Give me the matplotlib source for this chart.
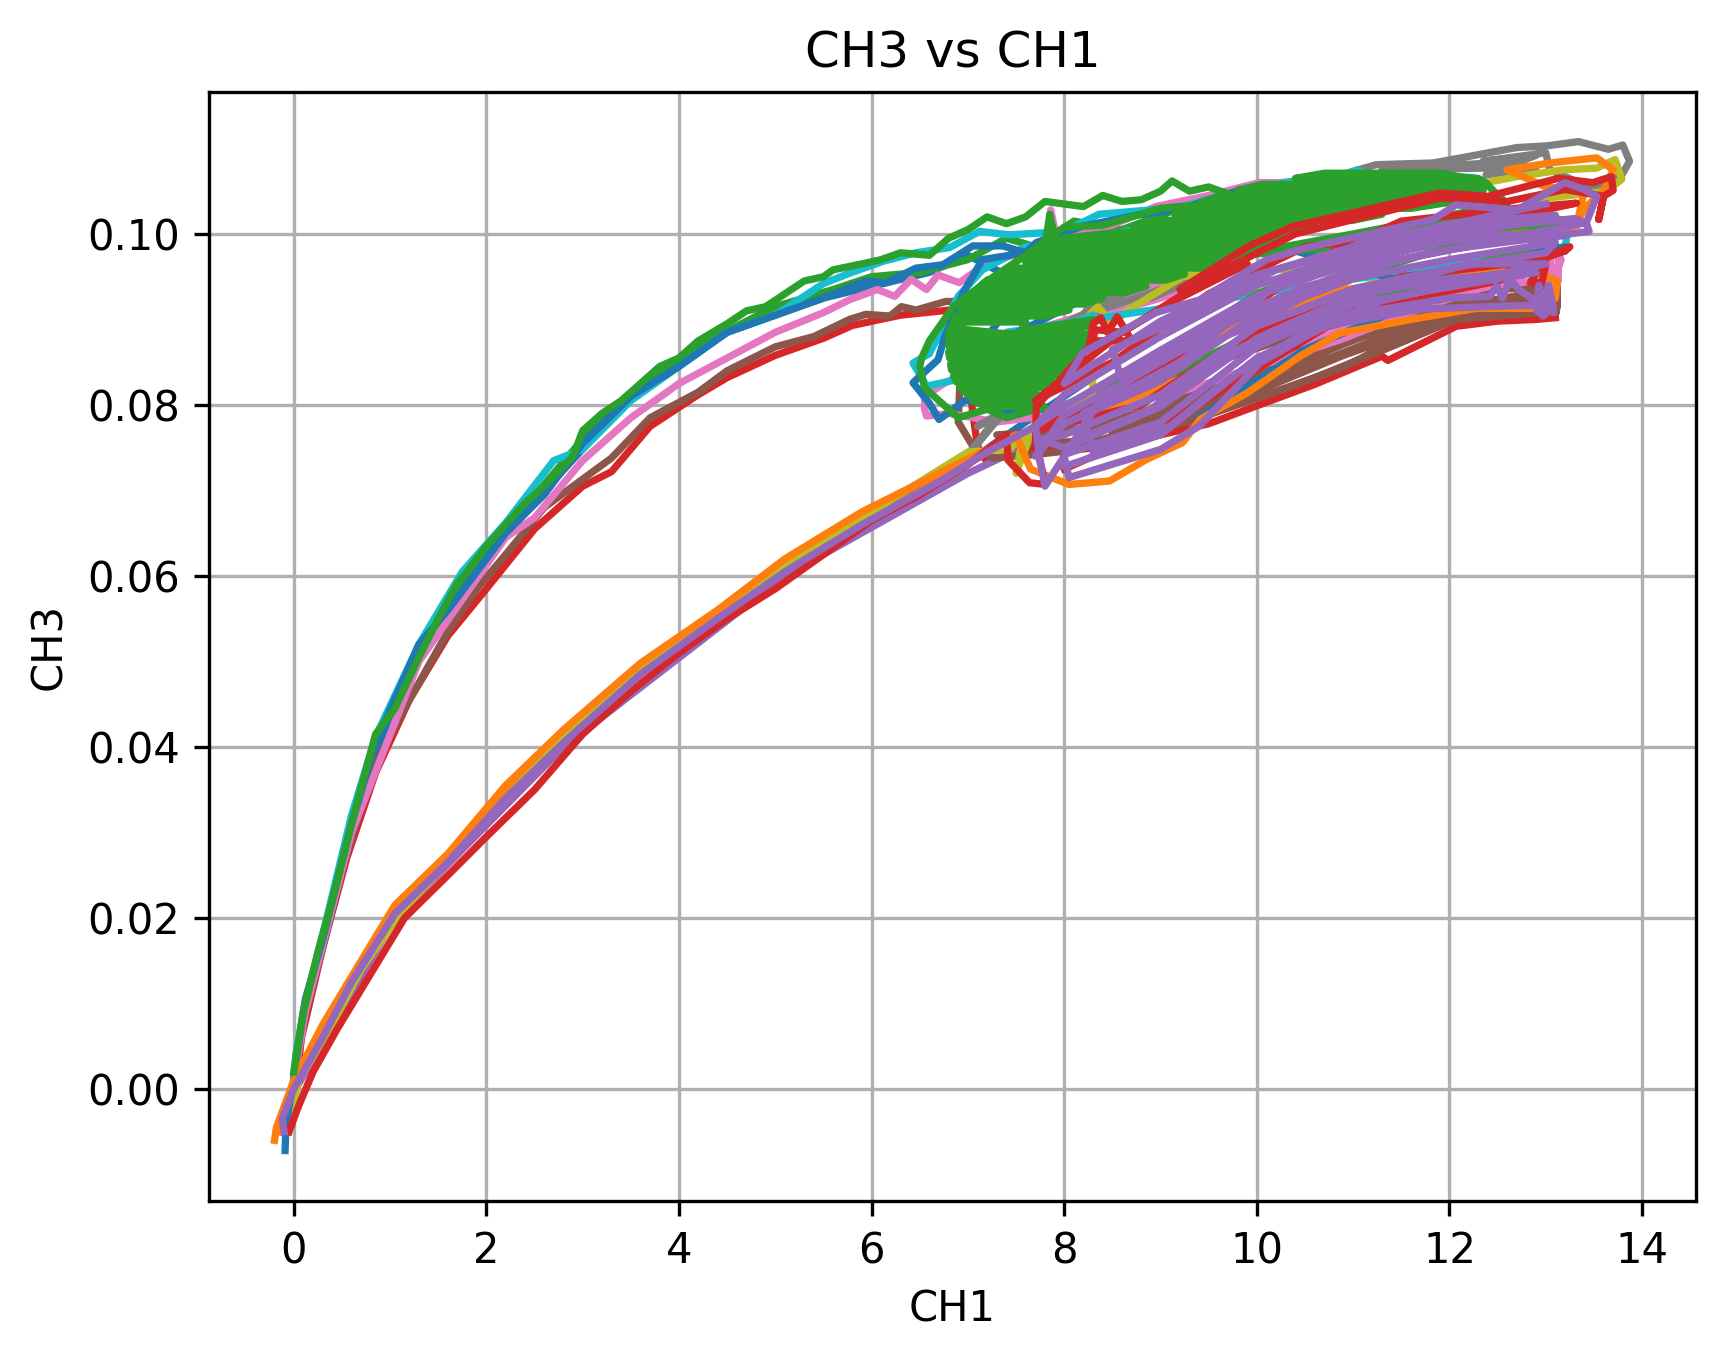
import numpy as np
import matplotlib
matplotlib.use('Agg')
import matplotlib.pyplot as plt

# every run is a list of (CH1, CH3) readings, in plotting order
run_blue_a = [(-0.08,-0.004),(0.02,0.001),(0.3,0.006),(1.05,0.02),(2.2,0.034),(3.6,0.049),(5.1,0.061),(6.7,0.071),
              (7.6,0.078),(8.4,0.084),(7.4,0.083),(7.2,0.088),(7.6,0.094),(7.0,0.0975),(6.6,0.0955),(5.5,0.0925),(4.5,0.0885),
              (3.5,0.081),(2.2,0.065),(1.3,0.052),(0.6,0.031),(0.15,0.011),(0.0,0.001)]

run_orange_a = [(-0.15,-0.005),(0.0,0.001),(0.3,0.007),(0.7,0.0145),(1.05,0.021),(1.6,0.027),(2.2,0.035),(2.8,0.0415),
                (3.6,0.0495),(4.4,0.0555),(5.1,0.0615),(5.9,0.067),(6.7,0.0715),(7.5,0.076),(8.5,0.08),(9.5,0.085),
                (10.5,0.089),(11.5,0.0925),(12.5,0.0945),(13.05,0.0965),(13.1,0.094)]

run_green_a = [(0.0,0.001),(0.1,0.009),(0.3,0.018),(0.6,0.0305),(0.85,0.041),(1.3,0.051),(1.8,0.06),(2.4,0.068),
               (3.0,0.076),(3.6,0.082),(4.3,0.0875),(5.0,0.0915),(5.6,0.0935),(6.0,0.095),(6.5,0.0955),(7.0,0.097),
               (7.4,0.0995),(7.7,0.0985),(8.1,0.1015),(8.6,0.1005),(9.2,0.103)]

run_red_a = [(-0.02,-0.004),(0.08,0.006),(0.3,0.0165),(0.55,0.027),(0.85,0.037),(1.2,0.0455),(1.6,0.053),(2.0,0.0585),
             (2.5,0.0655),(3.0,0.0705),(3.3,0.0722),(3.7,0.0775),(4.2,0.0812),(4.5,0.0832),(5.0,0.0858),(5.5,0.0878),
             (5.8,0.0893),(6.3,0.0905),(6.9,0.0912),(7.0,0.085),(7.05,0.079),(7.1,0.0752),(7.2,0.0733),(7.3,0.0755),
             (7.45,0.0745),(7.75,0.0748),(8.3,0.0752),(8.47,0.0746),(8.88,0.0762),(9.5,0.0778),(10.0,0.0799),(10.6,0.0824),
             (11.3,0.0857),(11.36,0.0852),(12.07,0.0892),(12.5,0.0898),(12.9,0.09),(13.1,0.0902)]

run_purple_a = [(-0.1,-0.004),(0.02,0.0),(1.05,0.02),(2.8,0.04),(5.1,0.06),(7.0,0.072),(8.5,0.08),(10.5,0.09),(12.5,0.095),
                (10.5,0.092),(8.0,0.08)]

run_brown = [(0.0,0.001),(0.1,0.008),(0.3,0.0165),(0.5,0.0255),(0.7,0.033),(0.85,0.038),(1.1,0.0435),(1.35,0.0485),
             (1.6,0.0535),(1.9,0.0585),(2.2,0.0625),(2.6,0.068),(2.9,0.0705),(3.3,0.0738),(3.7,0.0785),(4.2,0.0815),
             (4.5,0.084),(5.0,0.0868),(5.4,0.088),(5.77,0.09),(5.94,0.0906),(6.19,0.0904),(6.31,0.0915),(6.46,0.0911),
             (6.77,0.0921),(6.95,0.0921),(6.9,0.078),(7.05,0.0752),(7.26,0.0738),(7.7,0.0742),(8.47,0.0752),(8.88,0.0768),
             (9.41,0.0785),(10.0,0.0808),(10.6,0.0832),(11.35,0.0866),(12.07,0.09),(12.87,0.0907),(13.11,0.0908),
             (13.12,0.0925),(12.4,0.0922),(11.6,0.0886),(10.9,0.0858),(10.0,0.0816),(9.2,0.0785),(8.4,0.076),(7.5,0.0752),
             (7.3,0.0765),(8.2,0.0772),(9.2,0.0797),(10.0,0.0829),(10.9,0.0871),(11.7,0.0905),(12.4,0.0935),(13.12,0.0938),
             (13.12,0.0915),(12.35,0.0908),(11.7,0.0891),(10.9,0.0844),(10.2,0.0815),(9.6,0.0795),(9.2,0.081),(9.9,0.0842),
             (10.7,0.0878),(11.5,0.0912),(10.5,0.0885),(9.7,0.0855),(8.8,0.0815),(8.0,0.0785),(8.6,0.0785),(9.5,0.0815),
             (10.4,0.0855),(11.2,0.089),(11.9,0.0915),(12.6,0.0925),(12.9,0.0932),(12.0,0.0912),(11.1,0.087),(10.3,0.0835),
             (9.4,0.08),(8.5,0.0768)]

run_pink = [(0.0,0.001),(0.12,0.009),(0.6,0.03),(1.3,0.05),(2.2,0.0645),(2.5,0.0668),(3.0,0.0735),(3.5,0.0785),
            (4.0,0.0825),(4.5,0.0855),(5.0,0.0885),(5.5,0.0908),(5.77,0.0923),(6.06,0.0935),(6.24,0.0927),(6.41,0.0947),
            (6.57,0.0935),(6.69,0.0952),(6.91,0.0943),(7.15,0.0962),(7.53,0.0978),(7.82,0.099),(7.86,0.1028),(7.92,0.0995),
            (8.43,0.1007),(8.95,0.1032),(9.5,0.1045),(10.02,0.106),(10.24,0.106),(11.0,0.1068),(11.62,0.107),(11.0,0.1045),
            (9.6,0.0955),(8.78,0.0935),(8.54,0.0923),(8.2,0.0905),(8.7,0.0915),(9.3,0.0935),(8.7,0.0925),(8.2,0.0905),
            (7.6,0.0885),(7.1,0.0845),(6.75,0.0825),(6.55,0.081),
            (6.55,0.0795),(6.57,0.0787),(6.81,0.079),(7.3,0.078),(8.0,0.079),(9.2,0.0815),(10.45,0.0861),(10.86,0.0876),
            (11.66,0.0911),(12.38,0.0939),(12.75,0.0943),(13.1,0.095),(13.16,0.097),(13.12,0.098),(12.98,0.098),(12.95,0.095),
            (13.05,0.094),(13.13,0.0945),(13.13,0.0975),(13.05,0.0978),(13.05,0.0955),(12.92,0.0955),(12.92,0.0972),(12.7,0.0945),
            (11.7,0.0922),(10.9,0.0888),(10.4,0.087)]

run_gray = [(0.0,0.0005),(0.35,0.007),(0.7,0.0145),(1.1,0.0205),(2.2,0.034),(3.6,0.0495),(5.1,0.061),(6.0,0.0675),
            (6.6,0.0715),(6.78,0.0722),(6.84,0.0715),(7.3,0.0785),(6.95,0.0735),(7.4,0.0795),(7.1,0.0775),(7.5,0.0798),(8.26,0.0915),
            (8.71,0.0935),(8.0,0.0895),(8.4,0.0912),(9.0,0.0935),(8.9,0.0925),(9.58,0.0958),(10.9,0.107),(11.24,0.1081),(11.83,0.1083),(12.7,0.1101),(13.01,0.1103),(13.34,0.1108),
            (13.65,0.1099),(13.8,0.1104),(13.87,0.1085),(13.79,0.1069),(13.49,0.1053),(13.04,0.1075),(13.0,0.1095),(12.35,0.1085),
            (12.9,0.1092),(12.38,0.1069),(12.9,0.1078),(11.3,0.1075),(12.7,0.1085)]

run_olive = [(-0.05,-0.005),(0.05,0.001),(0.35,0.0065),(0.7,0.014),(1.1,0.0205),(2.2,0.034),(2.8,0.041),(3.6,0.0495),
             (5.0,0.0605),(6.0,0.0675),(7.0,0.0745),(7.43,0.0748),(7.57,0.0763),(7.5,0.072),(7.7,0.078),(8.3,0.0815),
             (8.26,0.0905),(8.35,0.0915),(8.5,0.0895),(8.65,0.091),(9.23,0.095),(9.89,0.0962),(11.5,0.0945),(12.52,0.0952),
             (12.87,0.0962),(13.0,0.0975),(12.38,0.106),(12.7,0.1067),(13.18,0.1075),(13.53,0.1077),(13.72,0.1087),(13.79,0.1064),
             (13.63,0.105),(13.18,0.1044),(12.87,0.104)]

run_cyan = [(0.0,0.0005),(0.02,0.004),(0.1,0.009),(0.3,0.018),(0.6,0.032),(0.85,0.0412),(1.3,0.052),(1.75,0.0605),
            (2.2,0.0662),(2.7,0.0735),(3.0,0.0748),(3.5,0.0805),(4.0,0.0845),(4.5,0.0885),(5.0,0.0905),(5.5,0.0942),
            (5.77,0.0954),(6.12,0.0968),(6.46,0.0978),(6.81,0.0984),(7.12,0.1003),(7.43,0.0999),(7.74,0.1001),(8.0,0.1003),
            (8.36,0.1023),(8.88,0.1028),(9.23,0.1032),(9.8,0.105),(10.59,0.1066),(10.8,0.1062),(11.04,0.1075),(11.2,0.1065),
            (11.8,0.1068),(12.25,0.1066),(12.37,0.1056),(11.0,0.1045),(7.6,0.0985),(7.15,0.0958),(6.9,0.0927),(6.6,0.086),
            (6.43,0.0849),(6.57,0.0822),(6.9,0.083),(7.6,0.0875),(8.3,0.0905),(7.9,0.0878),(7.4,0.0885),(13.2,0.0985),(13.25,0.1015)]

run_blue_b = [(-0.09,-0.0072),(-0.08,-0.004),(0.0,0.001),(0.02,0.003),(0.12,0.0105),(0.3,0.0175),(0.6,0.031),(0.85,0.0405),
              (1.3,0.052),(1.6,0.056),(2.2,0.065),(2.6,0.0695),(3.0,0.0755),(3.5,0.081),(4.0,0.0845),(4.5,0.0885),(5.0,0.0905),
              (5.5,0.0925),(5.94,0.0945),(6.15,0.0943),(6.46,0.096),(6.74,0.0964),(7.05,0.0986),(7.36,0.0986),(7.6,0.0978),
              (7.71,0.099),(8.19,0.1009),(8.71,0.1021),(9.23,0.103),(9.85,0.1052),(10.38,0.1054),(10.9,0.1064),(11.2,0.1066),
              (11.97,0.107),(11.0,0.1045),(8.5,0.098),(7.6,0.0978),(7.15,0.097),(6.95,0.0931),(6.76,0.088),(6.69,0.0853),
              (6.43,0.0826),(6.6,0.0802),(6.7,0.0783),(6.98,0.0806),(7.5,0.0791),(7.6,0.0865),(7.5,0.0884),(8.19,0.0923),
              (8.88,0.0947),(9.92,0.0986),(10.34,0.0982),(11.5,0.0945),(13.2,0.0985),(13.2,0.098),(12.7,0.097),(10.5,0.0865),
              (9.4,0.0785)]

run_orange_b = [(-0.2,-0.006),(-0.18,-0.0045),(0.0,0.001),(0.3,0.0075),(0.7,0.015),(1.05,0.0215),(1.6,0.0275),(2.2,0.0355),
                (2.8,0.042),(3.6,0.0498),(4.4,0.056),(5.1,0.062),(5.9,0.0675),(6.7,0.072),(7.5,0.0765),(7.65,0.0725),(8.05,0.0707),
                (8.47,0.0711),(8.85,0.0736),(9.23,0.0756),(9.41,0.0783),(9.9,0.0814),(10.45,0.0857),(10.86,0.0884),(11.6,0.09),
                (12.28,0.0913),(12.87,0.0913),(13.1,0.0925),(13.12,0.0945),(12.7,0.0965),(11.5,0.0945),(10.4,0.0925),(9.6,0.0885),
                (8.2,0.0785),(9.3,0.0835),(10.3,0.0905),(11.2,0.096),(12.5,0.1),(13.29,0.1009),(13.42,0.1032),(13.6,0.105),
                (13.7,0.1075),(13.53,0.1089),(13.04,0.1083),(12.6,0.1075),(13.0,0.1055),(13.4,0.105),(13.32,0.101)]

# the big green mass is a single line going back and forth, row by row
run_green_b = [(0.0,0.002),(0.1,0.009),(0.25,0.016),(0.4,0.022),(0.6,0.031),(0.85,0.0415),(1.05,0.0445),(1.3,0.0505),
               (1.5,0.055),(1.7,0.0592),(1.8,0.0605),(2.0,0.0635),(2.2,0.066),(2.4,0.0685),(2.6,0.0705),(2.9,0.074),
               (3.0,0.077),(3.2,0.079),(3.4,0.0805),(3.6,0.0825),(3.8,0.0845),(4.0,0.0855),(4.2,0.0875),(4.5,0.0895),
               (4.7,0.091),(4.9,0.0915),(5.1,0.093),(5.3,0.0945),(5.5,0.095),(5.6,0.0958),(5.9,0.0965),(6.1,0.097),
               (6.3,0.0978),(6.6,0.0975),(6.8,0.0995),(7.0,0.1005),(7.2,0.102),(7.4,0.1012),(7.6,0.102),(7.8,0.1038),
               (8.2,0.1032),(8.4,0.1045),(8.6,0.1038),(8.8,0.104),(9.0,0.105),(9.12,0.1062),(9.3,0.105),(9.5,0.1055),
               (9.75,0.1045),(9.6,0.1036),(9.0,0.103),(8.4,0.101),(8.0,0.1008),(7.6,0.0975),(7.2,0.0945),(6.85,0.0915),
               (6.6,0.0875),(6.52,0.0855),(6.5,0.0845),(6.55,0.082),(6.7,0.0805),(6.9,0.0785),(7.2,0.0795),(7.4,0.0785),
               (7.8,0.0798),(7.2,0.0798),(7.05,0.0805),(7.65,0.0805),(7.72,0.0812),(7.0,0.0812),(6.92,0.082),(7.8,0.082),
               (7.87,0.0827),(6.88,0.0827),(6.85,0.0834),(7.95,0.0834),(8.0,0.0841),(6.83,0.0841),(6.82,0.0848),(8.05,0.0848),
               (8.1,0.0855),(6.81,0.0855),(6.8,0.0862),(8.2,0.0862),(8.25,0.0869),(6.8,0.0869),(6.8,0.0876),(8.3,0.0876),
               (8.3,0.0883),(6.8,0.0883),(6.82,0.089),(7.5,0.0882),(8.3,0.0893),(8.3,0.09),(7.55,0.0887),(7.6,0.0897),(6.85,0.0897),
               (6.88,0.0904),(7.8,0.0904),
               (8.05,0.0911),(6.93,0.0911),(6.98,0.0918),(8.2,0.0918),(8.4,0.0925),(7.03,0.0925),(7.08,0.0932),(8.65,0.0932),
               (8.85,0.0939),(7.13,0.0939),(7.2,0.0946),(9.05,0.0946),(9.25,0.0953),(7.35,0.0953),(7.5,0.096),(9.45,0.096),
               (9.6,0.0967),(7.6,0.0967),(7.7,0.0974),(9.8,0.0974),(9.95,0.0981),(7.72,0.0981),(7.78,0.0988),(10.1,0.0988),
               (10.25,0.0995),(8.0,0.0995),(7.8,0.0985),(7.85,0.1023),(7.92,0.0985),(8.0,0.0995),(8.55,0.1002),(10.4,0.1002),
               (10.6,0.1009),(8.72,0.1009),(8.95,0.1016),(11.0,0.1016),(11.3,0.1023),(9.15,0.1023),(9.3,0.103),(11.6,0.103),
               (12.0,0.1037),(9.42,0.1037),(9.6,0.1044),(12.3,0.1044),(12.35,0.1051),(9.8,0.1051),(10.05,0.1058),(12.4,0.1058),
               (12.3,0.1065),(10.4,0.1065),(10.7,0.1071),(11.9,0.1071),(12.35,0.1062),(12.6,0.1035),(11.0,0.1),(9.8,0.0975),
               (11.0,0.0985),(12.0,0.1015),(12.9,0.1025),(13.2,0.1015),(12.0,0.1),(11.0,0.0975),(10.0,0.093),
               (9.0,0.0855),(8.0,0.0785),(9.0,0.083),(10.0,0.0885),(11.0,0.0915),(12.0,0.0955),(13.0,0.099),(13.0,0.1005),
               (12.0,0.0985),(11.0,0.095),(10.0,0.091)]

run_red_b = [(-0.05,-0.005),(0.05,-0.002),(0.2,0.002),(0.45,0.007),(0.8,0.0135),(1.15,0.02),(1.6,0.025),(2.0,0.0295),
             (2.5,0.035),(3.0,0.0415),(3.5,0.0465),(4.0,0.051),(4.5,0.055),(5.0,0.0585),(5.5,0.0625),(6.0,0.0665),
             (6.5,0.0695),(7.0,0.073),(7.4,0.0765),(7.42,0.0735),(7.64,0.0709),(7.81,0.0707),(7.7,0.0755),(7.71,0.0798),
             (8.26,0.0868),(8.3,0.0895),(8.38,0.0902),(8.45,0.0885),(8.55,0.0903),(8.65,0.0885),(8.7,0.0875),(8.3,0.0875),
             (8.32,0.0888),(8.6,0.0885),(9.2,0.0925),(9.9,0.0965),(9.2,0.0935),(9.41,0.095),(9.92,0.0986),(10.38,0.1009),(11.9,0.1048),(12.4,0.1044),(13.13,0.1065),
             (13.49,0.106),(13.68,0.1067),(13.7,0.1051),(13.6,0.1044),(13.55,0.1017),(13.6,0.1044),(13.2,0.1052),(12.6,0.1038),
             (11.9,0.1042),(10.4,0.1),(9.6,0.0955),(8.6,0.0885),(7.7,0.0805),(8.5,0.085),(9.5,0.093),(10.5,0.0985),(12.0,0.1005),
             (13.32,0.1036),(12.7,0.103),(11.5,0.1015),(10.8,0.098),(10.0,0.092),(8.8,0.083),(7.7,0.077),(8.8,0.08),(9.8,0.0875),
             (10.5,0.0905),(11.5,0.095),(13.0,0.097),(12.58,0.095),(12.64,0.0962),(12.7,0.0966),(12.76,0.0952),(12.83,0.0966),
             (12.94,0.097),(13.25,0.0985),(13.2,0.098),(12.94,0.097),(12.9,0.0954),(12.84,0.0943),(12.96,0.0943),(13.0,0.0965),
             (12.5,0.0945),(11.0,0.091),(9.9,0.0835),(9.0,0.0775),(8.0,0.0725)]

run_purple_b = [(-0.1,-0.005),(-0.12,-0.0035),(0.0,0.0),(0.3,0.006),(0.6,0.0125),(1.05,0.0205),(1.6,0.0265),(2.2,0.034),
                (2.8,0.0405),(3.6,0.0485),(4.4,0.055),(5.1,0.0605),(5.9,0.066),(6.7,0.071),(7.2,0.0745),(7.7,0.0775),
                (7.75,0.0735),(7.8,0.0705),(8.0,0.074),(8.05,0.0715),(9.0,0.0748),(9.4,0.0775),(10.03,0.0849),(10.69,0.0892),
                (11.69,0.0912),(12.38,0.0915),(13.0,0.0917),(13.08,0.0915),(12.97,0.0904),(12.9,0.0912),(12.93,0.094),(12.98,0.0905),
                (13.03,0.094),(13.08,0.0908),(13.04,0.0935),(13.0,0.0922),
                (12.85,0.0925),(12.72,0.0935),(12.63,0.0947),(12.55,0.0925),(12.49,0.0939),(12.42,0.0927),(12.0,0.0925),(11.0,0.0906),
                (10.0,0.0855),(9.0,0.0765),(8.0,0.0728),(8.0,0.0742),(9.0,0.078),(10.0,0.0868),(11.0,0.0918),(12.0,0.0938),
                (12.9,0.0955),(12.0,0.0948),(11.0,0.0928),(10.0,0.0878),(9.0,0.0798),(8.0,0.075),(7.75,0.076),(8.0,0.0765),
                (9.0,0.0812),(10.0,0.0892),(11.0,0.0936),(12.0,0.096),(13.0,0.0978),(13.1,0.099),(12.0,0.097),(11.0,0.0948),
                (10.0,0.0905),(9.0,0.0828),(8.0,0.0778),(7.7,0.074),(8.0,0.0788),(9.0,0.085),(10.0,0.0913),(11.0,0.0958),
                (12.0,0.0982),(13.45,0.1003),(13.42,0.1013),(12.8,0.1),(12.0,0.0992),(11.0,0.0966),(10.0,0.0928),(9.0,0.0864),
                (8.0,0.0798),(7.7,0.0775),(8.0,0.0812),(9.0,0.088),(10.0,0.094),(11.0,0.0976),(12.0,0.1003),(13.1,0.1022),
                (12.0,0.1012),(11.0,0.0985),(10.0,0.0952),(9.0,0.0898),(8.0,0.0825),(8.19,0.0861),(8.95,0.0908),(9.41,0.0923),
                (10.1,0.097),(10.45,0.0982),(11.83,0.1017),(12.07,0.1034),(12.7,0.1028),(13.2,0.106),(13.4,0.1052),(13.53,0.1044),
                (13.42,0.1013),(13.3,0.1018),(12.2,0.1005),(11.2,0.0998),(10.6,0.096),(10.2,0.094),(9.4,0.0868),(9.2,0.085),
                (8.2,0.079),(8.3,0.0745),(9.1,0.0775),(9.7,0.083),(10.5,0.0885),(11.3,0.0922),(12.2,0.0945),(13.0,0.0965),
                (12.2,0.0965),(11.4,0.094),(10.6,0.0905),(9.6,0.0855),(8.9,0.0795),(8.1,0.0758),(8.4,0.081),(9.2,0.0865),
                (9.8,0.0905),(10.5,0.0938),(11.5,0.097),(12.4,0.099),(13.2,0.0998),(12.3,0.1),(11.4,0.0985),(10.4,0.0955),
                (9.6,0.0895),(8.6,0.0828),(8.5,0.0865),(9.3,0.0905),(10.2,0.0958),(11.3,0.0992),(12.3,0.1018),(13.0,0.1035)]

all_runs = [run_blue_a, run_orange_a, run_green_a, run_red_a, run_purple_a, run_brown, run_pink, run_gray, run_olive,
            run_cyan, run_blue_b, run_orange_b, run_green_b, run_red_b, run_purple_b]

x_ticks = [0, 2, 4, 6, 8, 10, 12, 14]
y_ticks = [0.00, 0.02, 0.04, 0.06, 0.08, 0.10]

fig = plt.figure(figsize=(1726/300, 1357/300), dpi=300)
ax = fig.add_axes([209/1726, 1-1201/1357, (1696-209)/1726, (1201-92)/1357])

for run in all_runs:
    pts = np.array(run)
    ax.plot(pts[:, 0], pts[:, 1], linewidth=1.75)

ax.set_xlim(-0.88, 14.56)
ax.set_ylim(-0.0131, 0.1166)
ax.set_xticks(x_ticks)
ax.set_yticks(y_ticks)
ax.set_title('CH3 vs CH1')
ax.set_xlabel('CH1')
ax.set_ylabel('CH3')
ax.grid(True)

fig.savefig('out.png', dpi=300)
